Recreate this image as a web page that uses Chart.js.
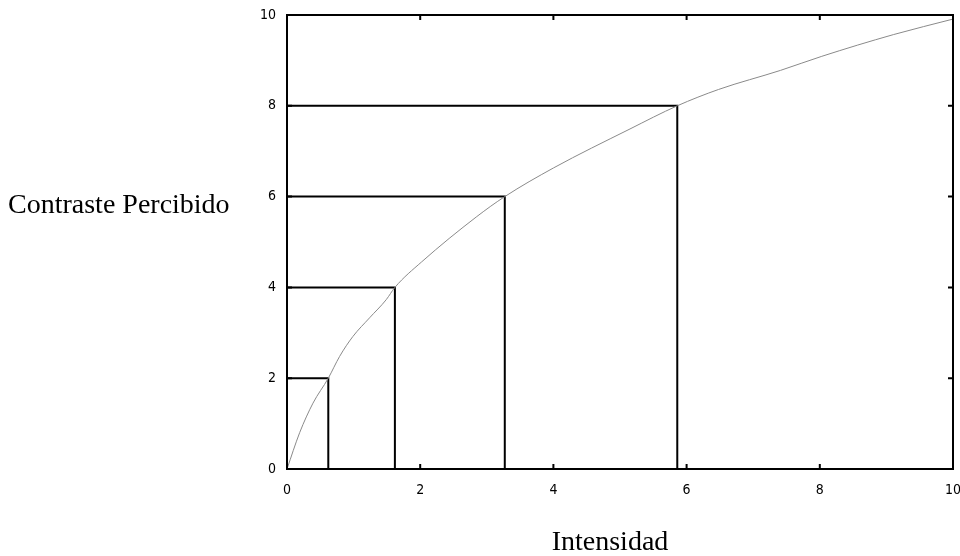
<!DOCTYPE html>
<html>
<head>
<meta charset="utf-8">
<title>Contraste Percibido</title>
<script src="https://cdn.jsdelivr.net/npm/chart.js@4.4.1/dist/chart.umd.min.js"></script>
<style>
  html, body { margin: 0; padding: 0; background: #fff; }
  #wrap { width: 960px; height: 556px; position: relative; }
</style>
</head>
<body>
<div id="wrap"><canvas id="chart" width="960" height="556"></canvas></div>
<script>
// Curve (intensity -> perceived contrast)
const curveX = [0, 0.19, 0.39, 0.62, 0.79, 0.99, 1.24, 1.49, 1.62, 2.02, 2.85, 3.27, 4.0, 5.15, 5.86, 6.48, 7.41, 8.03, 9.11, 10];
const curveY = [0, 0.8, 1.45, 2.0, 2.48, 2.92, 3.33, 3.73, 4.0, 4.56, 5.56, 6.0, 6.63, 7.49, 8.0, 8.36, 8.78, 9.09, 9.57, 9.91];

// Steps: intensity needed for each contrast level
const levelX = [0.62, 1.62, 3.27, 5.86];
const levelY = [2, 4, 6, 8];

const tickValues = [0, 2, 4, 6, 8, 10];
const xTitle = 'Intensidad';
const yTitle = 'Contraste Percibido';

const datasets = [{
    data: curveX.map((x, i) => ({ x: x, y: curveY[i] })),
    borderColor: '#8a8a8a',
    borderWidth: 1,
    pointRadius: 0,
    cubicInterpolationMode: 'monotone'
}];
levelX.forEach((x, i) => {
    datasets.push({
        data: [{ x: 0, y: levelY[i] }, { x: x, y: levelY[i] }, { x: x, y: 0 }],
        borderColor: '#000',
        borderWidth: 2,
        pointRadius: 0,
        tension: 0
    });
});

// frame, inward ticks and the two axis titles
const framePlugin = {
    id: 'frame',
    afterDatasetsDraw(chart) {
        const { ctx, chartArea: a, scales } = chart;
        ctx.save();
        ctx.strokeStyle = '#000';
        ctx.lineWidth = 2;
        ctx.strokeRect(a.left, a.top, a.right - a.left, a.bottom - a.top);
        ctx.beginPath();
        tickValues.forEach(v => {
            const px = scales.x.getPixelForValue(v);
            const py = scales.y.getPixelForValue(v);
            ctx.moveTo(px, a.bottom); ctx.lineTo(px, a.bottom - 5);
            ctx.moveTo(px, a.top); ctx.lineTo(px, a.top + 5);
            ctx.moveTo(a.left, py); ctx.lineTo(a.left + 5, py);
            ctx.moveTo(a.right, py); ctx.lineTo(a.right - 5, py);
        });
        ctx.stroke();

        ctx.fillStyle = '#000';
        ctx.font = '28px "Liberation Serif", serif';
        ctx.textBaseline = 'alphabetic';
        ctx.textAlign = 'left';
        ctx.fillText(yTitle, 8, scales.y.getPixelForValue(6) + 16);
        ctx.textAlign = 'center';
        ctx.fillText(xTitle, (a.left + a.right) / 2 - 10, 550);
        ctx.restore();
    }
};

const tickFont = { family: '"DejaVu Sans Condensed", "DejaVu Sans", sans-serif', size: 14 };

new Chart(document.getElementById('chart'), {
    type: 'line',
    data: { datasets: datasets },
    options: {
        responsive: false,
        animation: false,
        layout: { padding: { top: 15, right: 7, left: 0, bottom: 0 } },
        plugins: { legend: { display: false }, tooltip: { enabled: false } },
        scales: {
            x: {
                type: 'linear',
                min: 0, max: 10,
                afterFit: s => { s.height = 87; s.paddingLeft = 0; s.paddingRight = 0; },
                afterBuildTicks: s => { s.ticks = tickValues.map(v => ({ value: v })); },
                grid: { display: false, drawTicks: false },
                border: { display: false },
                ticks: { padding: 13, color: '#000', font: tickFont, maxRotation: 0 }
            },
            y: {
                type: 'linear',
                min: 0, max: 10,
                afterFit: s => { s.width = 287; s.paddingTop = 0; s.paddingBottom = 0; },
                afterBuildTicks: s => { s.ticks = tickValues.map(v => ({ value: v })); },
                grid: { display: false, drawTicks: false },
                border: { display: false },
                ticks: { padding: 11, color: '#000', font: tickFont }
            }
        }
    },
    plugins: [framePlugin]
});
</script>
</body>
</html>
